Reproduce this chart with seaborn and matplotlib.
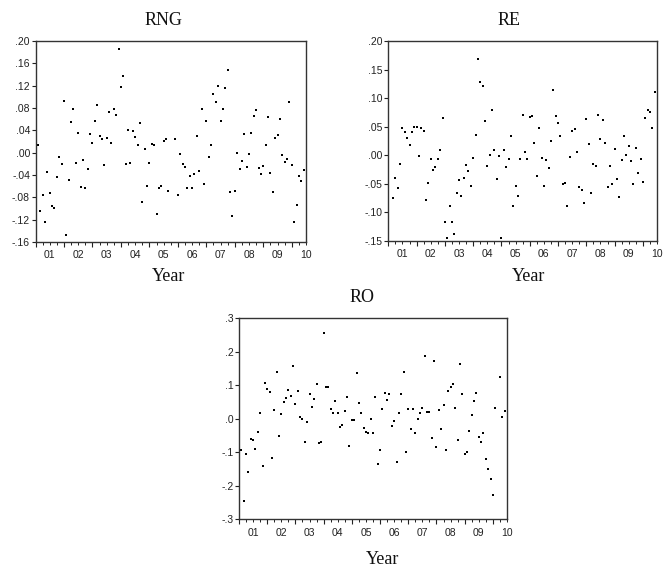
import numpy as np
import pandas as pd
import matplotlib
matplotlib.use("Agg")
import matplotlib.pyplot as plt
import seaborn as sns

# Monthly returns, 2001M01 onward
year_labels = ["01", "02", "03", "04", "05", "06", "07", "08", "09", "10"]

rng = [0.065, 0.014, -0.105, -0.075, -0.125, -0.035, -0.073, -0.096, -0.099, -0.044,
       -0.008, -0.021, 0.092, -0.147, -0.049, 0.055, 0.078, -0.018, 0.035, -0.062,
       -0.013, -0.063, -0.029, 0.033, 0.017, 0.057, 0.085, 0.030, 0.025, -0.022,
       0.026, 0.072, 0.017, 0.078, 0.068, 0.186, 0.118, 0.137, -0.020, 0.040,
       -0.019, 0.039, 0.028, 0.014, 0.054, -0.089, 0.007, -0.060, -0.019, 0.016,
       0.014, -0.109, -0.063, -0.059, 0.021, 0.024, -0.068, np.nan, np.nan, 0.025,
       -0.076, -0.002, -0.020, -0.026, -0.064, -0.042, -0.064, -0.039, 0.029, -0.032,
       0.079, -0.057, 0.056, -0.008, 0.013, 0.105, 0.090, 0.119, 0.056, 0.078,
       0.116, 0.148, -0.071, -0.114, -0.069, -0.001, -0.030, -0.015, 0.033, -0.026,
       -0.003, 0.036, 0.065, 0.076, -0.027, -0.038, -0.023, 0.014, 0.064, -0.036,
       -0.070, 0.027, 0.031, 0.060, -0.005, -0.016, -0.011, 0.090, -0.022, -0.125,
       -0.094, -0.042, -0.051, -0.031]

re_ = [0.150, np.nan, -0.074, -0.039, -0.058, -0.016, 0.048, 0.041, 0.031, 0.018,
       0.041, 0.050, 0.049, -0.002, 0.048, 0.042, -0.078, -0.048, -0.006, -0.026,
       -0.020, -0.006, 0.009, 0.065, -0.117, -0.144, -0.089, -0.117, -0.138, -0.066,
       -0.043, -0.072, -0.040, -0.017, -0.027, -0.054, -0.004, 0.036, 0.168, 0.128,
       0.121, 0.060, -0.019, 0.001, 0.080, 0.010, -0.041, -0.002, -0.144, 0.010,
       -0.020, -0.006, 0.034, -0.089, -0.054, -0.071, -0.007, 0.071, 0.005, -0.006,
       0.067, 0.069, 0.022, -0.037, 0.048, -0.005, -0.054, -0.008, -0.023, 0.025,
       0.114, 0.068, 0.057, 0.033, -0.051, -0.048, -0.089, -0.003, 0.043, 0.046,
       0.006, -0.055, -0.061, -0.084, 0.064, 0.020, -0.066, -0.015, -0.019, 0.070,
       0.028, 0.062, 0.022, -0.055, -0.019, -0.050, 0.011, -0.042, -0.073, -0.008,
       0.033, 0.000, 0.016, -0.010, -0.051, 0.013, -0.031, -0.006, -0.047, 0.065,
       0.079, 0.075, 0.048, 0.110]

ro = [-0.005, -0.093, -0.244, -0.104, -0.158, -0.061, -0.063, -0.090, -0.038, 0.016,
      -0.141, 0.107, 0.088, 0.079, -0.116, 0.025, 0.140, -0.051, 0.013, 0.050,
      0.062, 0.085, 0.069, 0.158, 0.043, 0.083, 0.004, 0.000, -0.068, -0.009,
      0.073, 0.035, 0.059, 0.104, -0.073, -0.070, 0.257, 0.094, 0.094, 0.029,
      0.016, 0.054, 0.016, -0.024, -0.018, 0.022, 0.064, -0.080, -0.004, -0.004,
      0.136, 0.048, 0.018, -0.026, -0.040, -0.042, 0.000, -0.042, 0.065, -0.136,
      -0.094, 0.029, 0.076, 0.056, 0.073, -0.020, -0.008, -0.129, 0.016, 0.074,
      0.141, -0.098, 0.028, -0.031, 0.028, -0.043, -0.001, 0.016, 0.031, 0.186,
      0.021, 0.021, -0.056, 0.174, -0.083, 0.026, -0.030, 0.040, -0.094, 0.084,
      0.094, 0.104, 0.033, -0.064, 0.163, 0.073, -0.106, -0.098, -0.036, 0.010,
      0.054, 0.078, -0.053, -0.068, -0.042, -0.121, -0.150, -0.180, -0.227, 0.033,
      np.nan, 0.126, 0.006, 0.023]

rng_ticks = [-0.16, -0.12, -0.08, -0.04, 0.00, 0.04, 0.08, 0.12, 0.16, 0.20]
rng_tick_labels = ["-.16", "-.12", "-.08", "-.04", ".00", ".04", ".08", ".12", ".16", ".20"]
re_ticks = [-0.15, -0.10, -0.05, 0.00, 0.05, 0.10, 0.15, 0.20]
re_tick_labels = ["-.15", "-.10", "-.05", ".00", ".05", ".10", ".15", ".20"]
ro_ticks = [-0.3, -0.2, -0.1, 0.0, 0.1, 0.2, 0.3]
ro_tick_labels = ["-.3", "-.2", "-.1", ".0", ".1", ".2", ".3"]

sns.set_style("white")
plt.rcParams["font.family"] = ["Liberation Sans", "DejaVu Sans"]

W, H = 665, 569
fig = plt.figure(figsize=(W / 100, H / 100), dpi=100)


def rect(x0, y0, x1, y1):
    return [x0 / W, 1 - y1 / H, (x1 - x0) / W, (y1 - y0) / H]


panels = [
    ("RNG", rng, rng_ticks, rng_tick_labels, rect(35.5, 41, 306, 242), (164, 25), (169, 281)),
    ("RE", re_, re_ticks, re_tick_labels, rect(388.3, 41, 657, 241), (509, 25), (529, 281)),
    ("RO", ro, ro_ticks, ro_tick_labels, rect(239, 318.3, 507, 519.3), (362, 302), (383, 564)),
]

serif = ["Liberation Serif", "DejaVu Serif"]
x_end = 114

for title, vals, ticks, tlabels, r, tpos, ypos in panels:
    ax = fig.add_axes(r)
    df = pd.DataFrame({"month": np.arange(len(vals)), "value": vals})
    sns.scatterplot(data=df, x="month", y="value", ax=ax, marker="s", s=3,
                    color="black", linewidth=0, legend=False)
    ax.set_xlim(0, x_end)
    ax.set_ylim(ticks[0], ticks[-1])
    ax.set_xlabel("")
    ax.set_ylabel("")

    ax.set_yticks(ticks)
    ax.set_yticklabels(tlabels)
    ax.tick_params(axis="y", direction="out", length=3, width=0.8, pad=1,
                   labelsize=7.5, colors="#222222", left=True)

    # year boundaries (long) and quarters (short)
    ax.set_xticks(np.arange(0, x_end, 12))
    ax.set_xticklabels([])
    ax.set_xticks(np.arange(0, x_end + 1, 3), minor=True)
    ax.tick_params(axis="x", which="major", direction="out", length=3.5, width=0.8,
                   bottom=True, colors="#222222")
    ax.tick_params(axis="x", which="minor", direction="out", length=1.8, width=0.7,
                   bottom=True, colors="#222222")

    sec = ax.secondary_xaxis("bottom")
    sec.set_xticks(6 + 12 * np.arange(len(year_labels)), labels=year_labels)
    sec.tick_params(length=0, pad=6.0, labelsize=7.5, colors="#222222")
    sec.spines["bottom"].set_visible(False)

    for sp in ax.spines.values():
        sp.set_color("#333333")
        sp.set_linewidth(1.0)

    fig.text(tpos[0] / W, 1 - tpos[1] / H, title, ha="center", va="baseline",
             fontsize=13, family=serif, color="#111111")
    fig.text(ypos[0] / W, 1 - ypos[1] / H, "Year", ha="center", va="baseline",
             fontsize=13, family=serif, color="#111111")

fig.savefig("out.png", dpi=100)
